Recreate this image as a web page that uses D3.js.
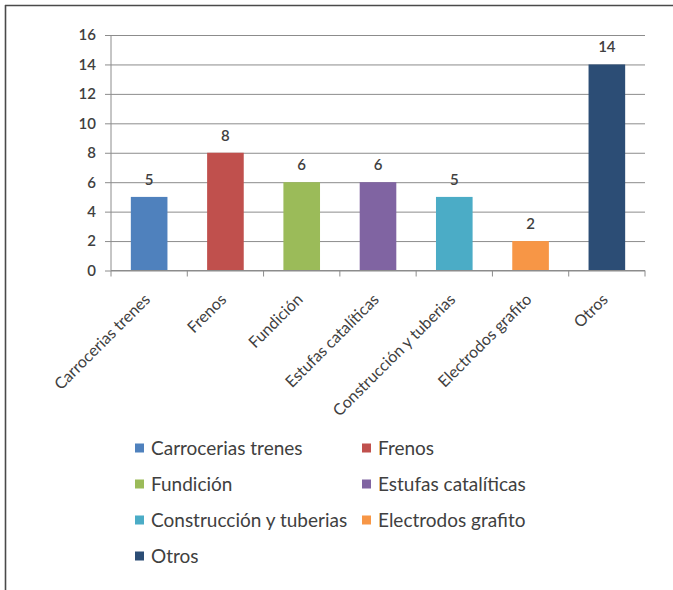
<!DOCTYPE html>
<html>
<head>
<meta charset="utf-8">
<script src="https://cdn.jsdelivr.net/npm/d3@7"></script>
<style>
  html, body { margin: 0; padding: 0; background: #fff; }
  svg { display: block; }
  text { font-family: Lato, "Open Sans", sans-serif; fill: #404040; }
</style>
</head>
<body>
<svg id="chart" width="673" height="590"></svg>
<script>
// Sectors and counts
const categories = ["Carrocerias trenes", "Frenos", "Fundición", "Estufas catalíticas",
                    "Construcción y tuberias", "Electrodos grafito", "Otros"];
const values = [5, 8, 6, 6, 5, 2, 14];
const colors = ["#4F81BD", "#C0504D", "#9BBB59", "#8064A2", "#4BACC6", "#F79646", "#2C4D75"];
const yTicks = [0, 2, 4, 6, 8, 10, 12, 14, 16];

const svg = d3.select("#chart");

// frame lines (top and left edges)
svg.append("line").attr("x1", 5).attr("x2", 673).attr("y1", 5.5).attr("y2", 5.5)
  .attr("stroke", "#4a4a4a").attr("stroke-width", 1.6);
svg.append("line").attr("x1", 5.5).attr("x2", 5.5).attr("y1", 5).attr("y2", 590)
  .attr("stroke", "#4a4a4a").attr("stroke-width", 1.6);

const plot = { left: 111, right: 645, top: 35, bottom: 270.5 };

const x = d3.scaleBand()
  .domain(categories)
  .range([plot.left, plot.right])
  .paddingInner(0.52)
  .paddingOuter(0.26);

const y = d3.scaleLinear().domain([0, 16]).range([plot.bottom, plot.top]);

// horizontal gridlines + left tick labels
const yAxis = d3.axisLeft(y).tickValues(yTicks).tickSize(0).tickPadding(0)
  .tickFormat(d3.format("d"));
const gy = svg.append("g").attr("transform", `translate(${plot.left - 6},0)`).call(yAxis);
gy.select(".domain").remove();
gy.selectAll(".tick line").attr("stroke", "#8c8c8c").attr("stroke-width", 1)
  .attr("x1", 0).attr("x2", plot.right - plot.left + 6);
gy.selectAll(".tick text").attr("font-size", 15).attr("fill", "#404040")
  .attr("font-weight", 600).attr("x", -9);

// vertical axis line
svg.append("line").attr("x1", plot.left).attr("x2", plot.left)
  .attr("y1", plot.top).attr("y2", plot.bottom)
  .attr("stroke", "#8c8c8c");

// bars
svg.append("g").selectAll("rect").data(values).join("rect")
  .attr("x", (d, i) => x(categories[i]))
  .attr("y", d => y(d))
  .attr("width", x.bandwidth())
  .attr("height", d => y(0) - y(d))
  .attr("fill", (d, i) => colors[i]);

// value labels
svg.append("g").selectAll("text").data(values).join("text")
  .attr("x", (d, i) => x(categories[i]) + x.bandwidth() / 2)
  .attr("y", d => y(d) - 12)
  .attr("text-anchor", "middle")
  .attr("font-size", 15)
  .attr("font-weight", 600)
  .text(d => d);

// category axis with boundary ticks
const slot = d3.scaleLinear().domain([0, categories.length]).range([plot.left, plot.right]);
const gx = svg.append("g");
gx.append("line").attr("x1", plot.left).attr("x2", plot.right)
  .attr("y1", plot.bottom).attr("y2", plot.bottom).attr("stroke", "#8c8c8c");
gx.selectAll("line.tk").data(d3.range(categories.length + 1)).join("line")
  .attr("class", "tk")
  .attr("x1", i => slot(i)).attr("x2", i => slot(i))
  .attr("y1", plot.bottom).attr("y2", plot.bottom + 6)
  .attr("stroke", "#8c8c8c");

gx.selectAll("text").data(categories).join("text")
  .attr("transform", d => `translate(${x(d) + x.bandwidth() / 2 + 2},${plot.bottom + 30}) rotate(-45)`)
  .attr("text-anchor", "end")
  .attr("font-size", 16)
  .text(d => d);

// legend, two columns
const legend = svg.append("g");
const colX = [135, 362];
const rowY = [448, 484, 520, 556];
categories.forEach((c, i) => {
  const gx0 = colX[i % 2], gy0 = rowY[Math.floor(i / 2)];
  legend.append("rect").attr("x", gx0).attr("y", gy0 - 4.5).attr("width", 9).attr("height", 9)
    .attr("fill", colors[i]);
  legend.append("text").attr("x", gx0 + 16).attr("y", gy0).attr("dy", "0.36em")
    .attr("font-size", 19).attr("fill", "#595959").text(c);
});
</script>
</body>
</html>
